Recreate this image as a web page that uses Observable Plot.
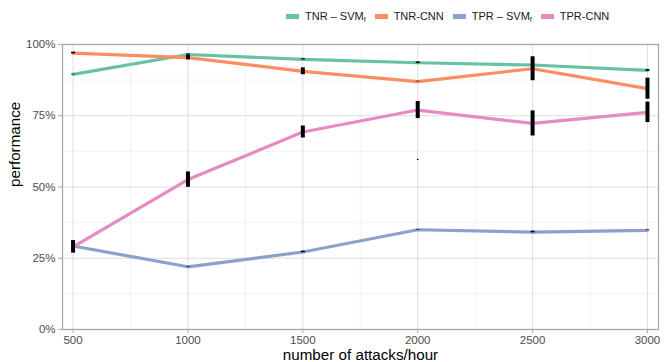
<!DOCTYPE html>
<html>
<head>
<meta charset="utf-8">
<script src="https://cdn.jsdelivr.net/npm/d3@7"></script>
<script src="https://cdn.jsdelivr.net/npm/@observablehq/plot@0.6"></script>
<style>
  html, body { margin: 0; padding: 0; background: #fff; }
  body { width: 668px; height: 362px; overflow: hidden; font-family: "Liberation Sans", Arial, sans-serif; }
  #legend { position: relative; width: 668px; height: 30px; }
  #legend .row { position: absolute; left: 286px; top: 10px; display: flex; gap: 9px; }
  .item { display: flex; align-items: center; font-size: 11px; color: #1a1a1a; white-space: nowrap; line-height: 13px; }
  .sw { width: 13px; height: 5px; margin-right: 6px; }
  sub { font-size: 7px; vertical-align: -2px; line-height: 0; }
</style>
</head>
<body>
<div id="legend"><div class="row"></div></div>
<div id="chart"></div>
<script>
// ---- data ----
const attacks = [500, 1000, 1500, 2000, 2500, 3000];
const tnrSvm = [0.895, 0.965, 0.948, 0.936, 0.928, 0.909];
const tnrCnn = [0.970, 0.954, 0.906, 0.870, 0.915, 0.845];
const tprSvm = [0.293, 0.220, 0.272, 0.350, 0.342, 0.348];
const tprCnn = [0.290, 0.526, 0.693, 0.770, 0.723, 0.762];
const tnrSvmErr = [0.001, 0.002, 0.002, 0.003, 0.001, 0.003];
const tnrCnnErr = [0.003, 0.008, 0.012, 0.001, 0.042, 0.037];
const tprSvmErr = [0.001, 0.001, 0.003, 0.001, 0.003, 0.001];
const tprCnnErr = [0.022, 0.027, 0.021, 0.030, 0.044, 0.036];
const extraX = [2000];
const extraY = [0.595];
const seriesKeys = ["TNR-SVMf", "TNR-CNN", "TPR-SVMf", "TPR-CNN"];
const legendHtml = ["TNR – SVM<sub>f</sub>", "TNR-CNN", "TPR – SVM<sub>f</sub>", "TPR-CNN"];
const colors = ["#66C2A5", "#FC8D62", "#8DA0CB", "#E78AC3"];
const xMajor = [500, 1000, 1500, 2000, 2500, 3000];
const xMinor = [750, 1250, 1750, 2250, 2750];
const yMajor = [0, 0.25, 0.5, 0.75, 1];
const yMinor = [0.125, 0.375, 0.625, 0.875];

// ---- build table ----
const values = [tnrSvm, tnrCnn, tprSvm, tprCnn];
const errs = [tnrSvmErr, tnrCnnErr, tprSvmErr, tprCnnErr];
const rows = [];
seriesKeys.forEach((k, i) => attacks.forEach((a, j) => rows.push({
  series: k, x: a, y: values[i][j], lo: values[i][j] - errs[i][j], hi: values[i][j] + errs[i][j]
})));
const extras = extraX.map((x, i) => ({x, lo: extraY[i] - 0.002, hi: extraY[i] + 0.002}));

// ---- legend ----
const lg = d3.select("#legend .row");
seriesKeys.forEach((k, i) => {
  const it = lg.append("div").attr("class", "item");
  it.append("div").attr("class", "sw").style("background", colors[i]);
  it.append("span").html(legendHtml[i]);
});

// ---- chart ----
const chart = Plot.plot({
  width: 668,
  height: 332,
  marginLeft: 62,
  marginRight: 10,
  marginTop: 14,
  marginBottom: 33,
  style: { fontFamily: "Liberation Sans, Arial, sans-serif", background: "#fff" },
  x: { domain: [454, 3048], label: null },
  y: { domain: [0, 1], label: null },
  color: { domain: seriesKeys, range: colors },
  marks: [
    Plot.ruleX(xMinor, { stroke: "#ebebeb", strokeWidth: 0.6 }),
    Plot.ruleY(yMinor, { stroke: "#ebebeb", strokeWidth: 0.6 }),
    Plot.ruleX(xMajor, { stroke: "#dedede", strokeWidth: 1 }),
    Plot.ruleY(yMajor, { stroke: "#dedede", strokeWidth: 1 }),
    Plot.line(rows, { x: "x", y: "y", z: "series", stroke: "series", strokeWidth: 3.2 }),
    Plot.ruleX(rows, { x: "x", y1: "lo", y2: "hi", stroke: "black", strokeWidth: 4 }),
    Plot.ruleX(extras, { x: "x", y1: "lo", y2: "hi", stroke: "black", strokeWidth: 1.5 }),
    Plot.frame({ stroke: "#a8a8a8", strokeWidth: 1.3 }),
    Plot.axisX({ ticks: xMajor, tickFormat: d => String(d), tickSize: 4, tickPadding: 2,
      stroke: "#a8a8a8", fill: "#4d4d4d", fontSize: 11.5, label: null }),
    Plot.axisY({ ticks: yMajor, tickFormat: d3.format(".0%"), tickSize: 4, tickPadding: 3,
      stroke: "#a8a8a8", fill: "#4d4d4d", fontSize: 11.5, label: null }),
    Plot.text(["number of attacks/hour"], { frameAnchor: "bottom", dy: 30, fontSize: 15.2, fill: "#000" }),
    Plot.text(["performance"], { frameAnchor: "left", dx: -47, rotate: -90, fontSize: 15.2, fill: "#000" })
  ]
});
document.getElementById("chart").appendChild(chart);
</script>
</body>
</html>
